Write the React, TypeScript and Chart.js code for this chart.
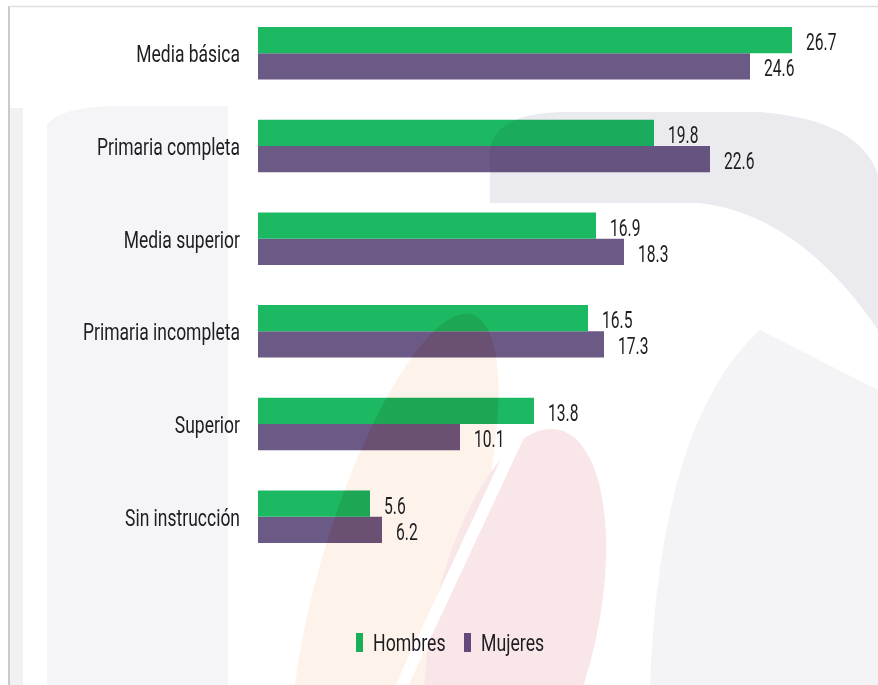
import React, { useEffect, useRef } from "react";
import { Chart, registerables } from "chart.js";

Chart.register(...registerables);

const categories = [
  "Media básica",
  "Primaria completa",
  "Media superior",
  "Primaria incompleta",
  "Superior",
  "Sin instrucción",
];
const hombres = [26.7, 19.8, 16.9, 16.5, 13.8, 5.6];
const mujeres = [24.6, 22.6, 18.3, 17.3, 10.1, 6.2];
const seriesNames = ["Hombres", "Mujeres"];
const seriesColors = ["#1DB862", "#6C5A86"];

const FONT = "Roboto, 'DejaVu Sans', sans-serif";
const TEXT_COLOR = "#1e1e22";

function narrowText(
  ctx: CanvasRenderingContext2D,
  text: string,
  x: number,
  y: number,
  align: "left" | "right",
  size: number,
  sx: number
) {
  ctx.save();
  ctx.font = `${size}px ${FONT}`;
  ctx.fillStyle = TEXT_COLOR;
  ctx.textBaseline = "alphabetic";
  ctx.textAlign = align;
  ctx.translate(x, y);
  ctx.scale(sx, 1);
  ctx.fillText(text, 0, 0);
  ctx.restore();
}

// faint logo watermark behind the chart
function drawWatermark(ctx: CanvasRenderingContext2D, width: number, height: number, strong: boolean) {
  // grey arc, top right
  ctx.fillStyle = strong ? "#dcdbe3" : "#ebeaef";
  ctx.beginPath();
  ctx.moveTo(490, 203);
  ctx.lineTo(490, 150);
  ctx.quadraticCurveTo(495, 114, 560, 112);
  ctx.lineTo(760, 112);
  ctx.quadraticCurveTo(860, 120, width, 175);
  ctx.lineTo(width, 330);
  ctx.quadraticCurveTo(800, 215, 700, 203);
  ctx.closePath();
  ctx.fill();
  // light grey on the right
  ctx.fillStyle = "#f4f4f7";
  ctx.beginPath();
  ctx.moveTo(650, height);
  ctx.quadraticCurveTo(660, 420, 760, 330);
  ctx.lineTo(width, 390);
  ctx.lineTo(width, height);
  ctx.closePath();
  ctx.fill();
  // peach leaf
  ctx.fillStyle = strong ? "#f6cdb8" : "#fdf3ea";
  ctx.beginPath();
  ctx.ellipse(395, 565, 72, 262, 0.3, 0, Math.PI * 2);
  ctx.fill();
  // pink leaf
  ctx.fillStyle = strong ? "#e9b6bd" : "#f9e6e8";
  ctx.beginPath();
  ctx.ellipse(515, 625, 82, 200, 0.22, 0, Math.PI * 2);
  ctx.fill();
  // white gap between the leaves
  if (!strong) {
    ctx.strokeStyle = "#ffffff";
    ctx.lineWidth = 12;
    ctx.beginPath();
    ctx.moveTo(535, 400);
    ctx.lineTo(395, 700);
    ctx.stroke();
  }
}

const backgroundPlugin = {
  id: "bgFrame",
  beforeDatasetsDraw(chart: any) {
    const { ctx, width, height } = chart;
    ctx.save();
    ctx.fillStyle = "#ffffff";
    ctx.fillRect(0, 0, width, height);
    ctx.fillStyle = "#f1f1f4";
    ctx.fillRect(10, 108, 13, height - 108);
    ctx.fillStyle = "#f5f5f7";
    ctx.beginPath();
    ctx.moveTo(47, height);
    ctx.lineTo(47, 125);
    ctx.quadraticCurveTo(60, 106, 120, 106);
    ctx.lineTo(228, 106);
    ctx.lineTo(228, height);
    ctx.closePath();
    ctx.fill();
    drawWatermark(ctx, width, height, false);
    // frame lines
    ctx.strokeStyle = "#c9c9ce";
    ctx.lineWidth = 2;
    ctx.beginPath();
    ctx.moveTo(9, height);
    ctx.lineTo(9, 6);
    ctx.stroke();
    ctx.strokeStyle = "#dedee2";
    ctx.lineWidth = 1.5;
    ctx.beginPath();
    ctx.moveTo(9, 6.5);
    ctx.lineTo(width, 6.5);
    ctx.stroke();
    ctx.restore();
  },
  afterDatasetsDraw(chart: any) {
    // the watermark darkens the bars it crosses
    const { ctx, width, height } = chart;
    ctx.save();
    ctx.beginPath();
    chart.data.datasets.forEach((_ds: any, i: number) => {
      chart.getDatasetMeta(i).data.forEach((bar: any) => {
        ctx.rect(bar.base, bar.y - bar.height / 2, bar.x - bar.base, bar.height);
      });
    });
    ctx.clip();
    ctx.globalCompositeOperation = "multiply";
    ctx.globalAlpha = 0.5;
    drawWatermark(ctx, width, height, true);
    ctx.restore();
  },
};

const textPlugin = {
  id: "texts",
  afterDraw(chart: any) {
    const { ctx } = chart;
    const yScale = chart.scales.y;
    categories.forEach((c, i) => {
      const y = yScale.getPixelForValue(i);
      narrowText(ctx, c, 240, y + 9, "right", 23, 0.76);
    });
    chart.data.datasets.forEach((ds: any, i: number) => {
      const meta = chart.getDatasetMeta(i);
      meta.data.forEach((bar: any, j: number) => {
        narrowText(ctx, ds.data[j].toFixed(1), bar.x + 14, bar.y + 10, "left", 23, 0.68);
      });
    });
    // legend
    const items = [
      { x: 356, tx: 373 },
      { x: 464, tx: 481 },
    ];
    items.forEach((it, i) => {
      ctx.fillStyle = i === 0 ? "#1AAE58" : "#66497C";
      ctx.fillRect(it.x, 633, 7, 19);
      narrowText(ctx, seriesNames[i], it.tx, 651, "left", 23, 0.77);
    });
  },
};

export default function App() {
  const ref = useRef<HTMLCanvasElement>(null);
  useEffect(() => {
    if (!ref.current) return;
    const chart = new Chart(ref.current, {
      type: "bar",
      data: {
        labels: categories,
        datasets: [
          {
            label: seriesNames[0],
            data: hombres,
            backgroundColor: seriesColors[0],
            borderWidth: 0,
            categoryPercentage: 0.567,
            barPercentage: 1,
          },
          {
            label: seriesNames[1],
            data: mujeres,
            backgroundColor: seriesColors[1],
            borderWidth: 0,
            categoryPercentage: 0.567,
            barPercentage: 1,
          },
        ],
      },
      options: {
        indexAxis: "y",
        animation: false,
        responsive: true,
        maintainAspectRatio: false,
        layout: { padding: { top: 7, right: 20, left: 0, bottom: 122 } },
        scales: {
          x: {
            display: false,
            min: 0,
            max: 30,
          },
          y: {
            grid: { display: false },
            border: { display: false },
            ticks: { display: false },
            afterFit: (s: any) => {
              s.width = 258;
              s.paddingTop = 0;
              s.paddingBottom = 0;
            },
          },
        },
        plugins: {
          legend: { display: false },
          tooltip: { enabled: false },
        },
      },
      plugins: [backgroundPlugin, textPlugin],
    });
    return () => chart.destroy();
  }, []);
  return (
    <div style={{ position: "fixed", left: 0, top: 0, width: 878, height: 685 }}>
      <canvas ref={ref} />
    </div>
  );
}
